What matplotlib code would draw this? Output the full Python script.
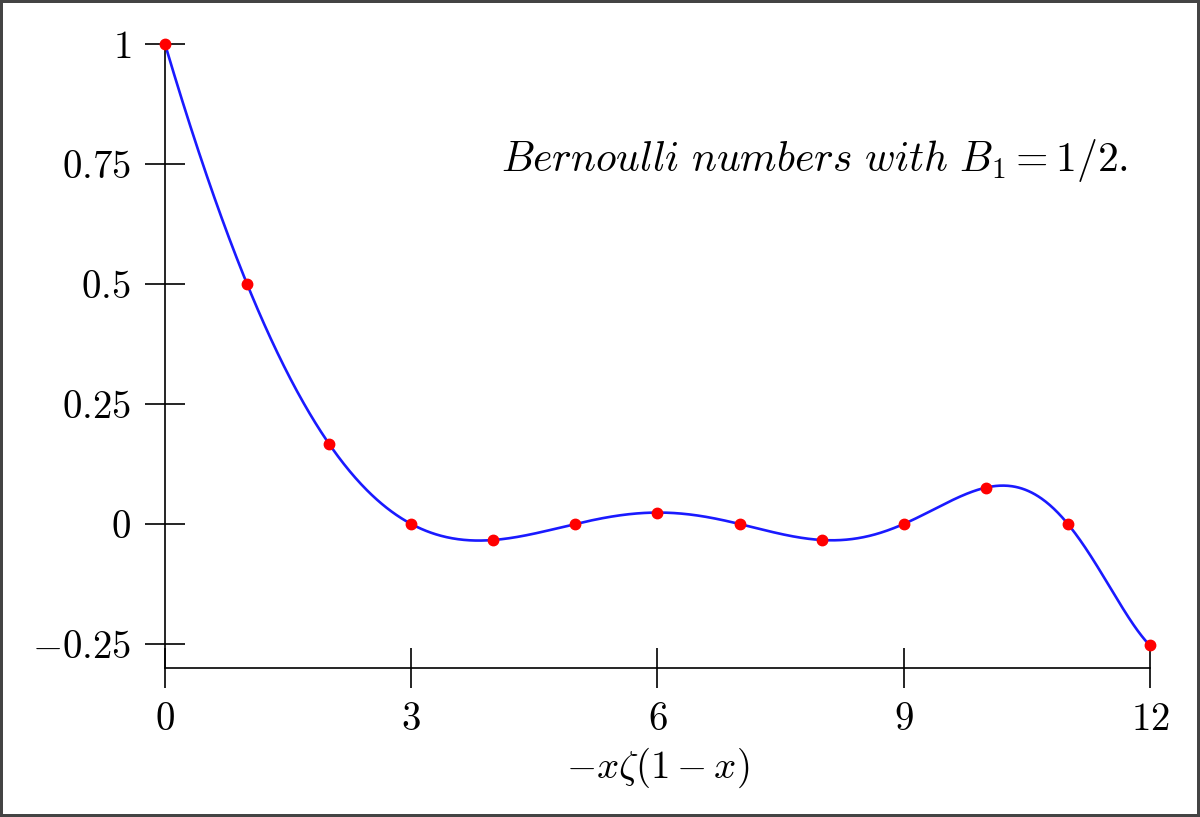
import math
import numpy as np
import matplotlib
matplotlib.use("Agg")
import matplotlib.pyplot as plt

plt.rcParams['mathtext.fontset'] = 'cm'
plt.rcParams['font.family'] = 'serif'
plt.rcParams['font.serif'] = ['cmr10', 'DejaVu Serif']

# Bernoulli numbers B_0..B_12 with B_1 = +1/2
n_values = [0, 1, 2, 3, 4, 5, 6, 7, 8, 9, 10, 11, 12]
bernoulli = [1, 1/2, 1/6, 0, -1/30, 0, 1/42, 0, -1/30, 0, 5/66, 0, -691/2730]

x_ticks = [0, 3, 6, 9, 12]
x_tick_labels = ['$0$', '$3$', '$6$', '$9$', '$12$']
y_ticks = [-0.25, 0, 0.25, 0.5, 0.75, 1]
y_tick_labels = ['$-0.25$', '$0$', '$0.25$', '$0.5$', '$0.75$', '$1$']


# zeta(s) via Borwein's algorithm (valid for real s != 1)
def zeta(s, n=30):
    d = []
    acc = 0.0
    for i in range(n + 1):
        acc += math.factorial(n + i - 1) * 4 ** i / (math.factorial(n - i) * math.factorial(2 * i))
        d.append(n * acc)
    total = 0.0
    for k in range(n):
        total += (-1) ** k * (d[k] - d[n]) / (k + 1) ** s
    eta = -total / d[n]
    return eta / (1 - 2 ** (1 - s))


# -x zeta(1-x) through the functional equation
def curve(x):
    return -2 * (2 * math.pi) ** (-x) * math.cos(math.pi * x / 2) * math.gamma(x + 1) * zeta(x)


x_curve = np.linspace(0.0001, 12, 1201)
x_curve = x_curve[np.abs(x_curve - 1) > 1e-4]
y_curve = np.array([curve(v) for v in x_curve])

fig = plt.figure(figsize=(12, 8.17), dpi=100)
fig.patch.set_edgecolor('#444444')
fig.patch.set_linewidth(4)
ax = fig.add_axes([0.1375, 0.1824, 0.8208, 0.7637])

ax.plot(x_curve, y_curve, color='#1a1aff', lw=1.9, zorder=2)
ax.plot(n_values, bernoulli, 'o', color='red', ms=7.5, mec='red', clip_on=False, zorder=3)

ax.set_xlim(0, 12)
ax.set_ylim(-0.30, 1)
ax.spines['top'].set_visible(False)
ax.spines['right'].set_visible(False)
for sp in ['left', 'bottom']:
    ax.spines[sp].set_linewidth(1.2)

ax.set_xticks(x_ticks)
ax.set_xticklabels(x_tick_labels)
ax.set_yticks(y_ticks)
ax.set_yticklabels(y_tick_labels)
ax.tick_params(direction='inout', length=29, width=1.2, labelsize=28, pad=10)

ax.set_xlabel(r'$-x\zeta(1-x)$', fontsize=28, labelpad=6)
ax.text(0.978, 0.814, r'$Bernoulli\ numbers\ with\ B_1=1/2.$', transform=ax.transAxes,
        ha='right', va='center', fontsize=30)

fig.savefig('out.png', dpi=100, edgecolor=fig.get_edgecolor())
